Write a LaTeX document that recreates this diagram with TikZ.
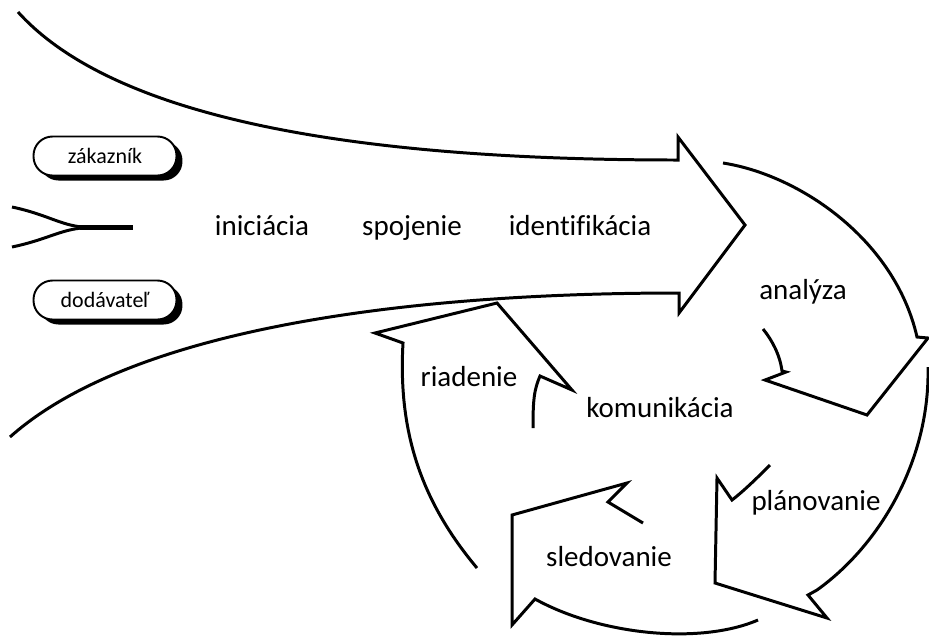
\documentclass[tikz,border=0pt]{standalone}
\usepackage{fontspec}
\setmainfont{Carlito}[Ligatures=NoCommon]
\usepackage{tikz}
\usetikzlibrary{shadows}

\begin{document}
\begin{tikzpicture}[
        x=0.02cm, y=-0.02cm,
        % Styles
        outline/.style={line width=1.7pt, line join=miter},
        phase/.style={font=\fontsize{16.5}{20}\selectfont, anchor=base, inner sep=0pt},
        pill/.style={draw=black, line width=1.1pt, fill=white, rounded corners=0.38cm,
            minimum width=2.86cm, minimum height=0.78cm, font=\fontsize{12.5}{15}\selectfont,
            drop shadow={shadow xshift=0.12cm, shadow yshift=-0.1cm, fill=black, opacity=1}}
    ]
    \useasboundingbox (0,0) rectangle (929,637);

    % ================= PARTNERS =================
    \node[pill] (customer) at (105,156) {zákazník};
    \node[pill] (supplier) at (105,300) {dodávateľ};

    % ================= FORK =================
    \draw[outline] (12,207) .. controls (50,215) and (62,227) .. (90,227.5);
    \draw[outline] (12,247) .. controls (50,239) and (62,228) .. (90,227.5);
    \draw[line width=2.8pt] (80,227.5) -- (133,227.5);

    % ================= BIG ARROW =================
    % Top and bottom edges run off the left side of the picture.
    \draw[outline] (18,12) .. controls (120,125) and (380,160) .. (678,160)
        -- (678,137) -- (745,225) -- (679,313) -- (679,293)
        .. controls (400,293) and (130,330) .. (10,437);

    \node[phase] (initiation) at (262,235) {iniciácia};
    \node[phase] (connection) at (412,235) {spojenie};
    \node[phase] (identification) at (580,235) {identifikácia};

    % ================= CYCLE ARROWS =================
    % analyza
    \draw[outline] (723,163) .. controls (800,175) and (895,240) .. (917,337)
        -- (928,338) -- (867,415) -- (765,380) -- (786,372) -- (782,371)
        .. controls (780,355) and (772,340) .. (763,329);
    % planovanie
    \draw[outline] (928,367) .. controls (930,460) and (880,545) .. (817,590)
        -- (808,595) -- (827,618) -- (715,583) -- (717,478) -- (732,500)
        .. controls (745,490) and (760,475) .. (770,465);
    % sledovanie
    \draw[outline] (758,620) .. controls (700,645) and (600,635) .. (535,599)
        -- (512,625) -- (512,515) -- (627,483) -- (608,502) -- (643,523);
    % riadenie
    \draw[outline] (477,568) .. controls (420,500) and (398,430) .. (403,343)
        -- (375,333) -- (497,303) -- (572,390) -- (540,376)
        .. controls (534,390) and (533,400) .. (533,428);

    % ================= LABELS =================
    \node[phase] (analysis) at (803,299) {analýza};
    \node[phase] (control) at (469,386) {riadenie};
    \node[phase] (communication) at (660,417) {komunikácia};
    \node[phase] (planning) at (816,510) {plánovanie};
    \node[phase] (monitoring) at (609,566) {sledovanie};

\end{tikzpicture}
\end{document}
